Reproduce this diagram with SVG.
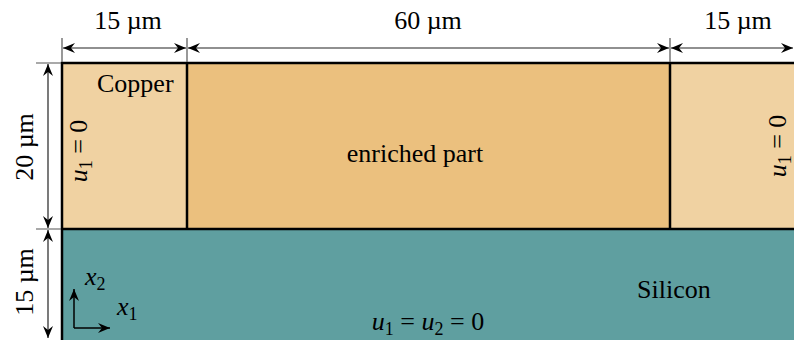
<svg xmlns="http://www.w3.org/2000/svg" width="794" height="340" viewBox="0 0 794 340" font-family="'Liberation Serif', 'Times New Roman', Times, 'DejaVu Serif', serif">
<style>
text{font-family:"Liberation Serif","Times New Roman",Times,"DejaVu Serif",serif;font-size:26px;fill:#000}
.it{font-style:italic}
.sub{font-size:18px}
.dim{stroke:#222;stroke-width:1.2;fill:none}
.ext{stroke:#555;stroke-width:1.2;fill:none}
.edge{stroke:#000;stroke-width:2.5;fill:none}
.ax{stroke:#000;stroke-width:1.5;fill:none}
</style>
<defs>
<marker id="ah" viewBox="-12 -6 14 12" refX="0" refY="0" markerWidth="14" markerHeight="12" markerUnits="userSpaceOnUse" orient="auto-start-reverse">
<path d="M0,0 L-12,-5 L-8,0 L-12,5 Z" fill="#000"/>
</marker>
</defs>
<g id="silicon">
<rect x="62" y="229" width="740" height="120" fill="#5F9FA0"/>
<text x="637" y="298">Silicon</text>
<text x="428" y="330" text-anchor="middle"><tspan class="it">u</tspan><tspan class="sub" dy="5">1</tspan><tspan dy="-5"> = </tspan><tspan class="it">u</tspan><tspan class="sub" dy="5">2</tspan><tspan dy="-5"> = 0</tspan></text>
</g>
<g id="copper-left">
<rect x="62" y="63" width="125" height="166" fill="#F0D2A2"/>
<text x="97" y="92">Copper</text>
<text transform="translate(87,151) rotate(-90)" text-anchor="middle"><tspan class="it">u</tspan><tspan class="sub" dy="5">1</tspan><tspan dy="-5"> = 0</tspan></text>
</g>
<g id="enriched">
<rect x="187" y="63" width="483" height="166" fill="#EBC07E"/>
<text x="415" y="162" text-anchor="middle">enriched part</text>
</g>
<g id="copper-right">
<rect x="670" y="63" width="130" height="166" fill="#F0D2A2"/>
<text transform="translate(786,146) rotate(-90)" text-anchor="middle"><tspan class="it">u</tspan><tspan class="sub" dy="5">1</tspan><tspan dy="-5"> = 0</tspan></text>
</g>
<g id="edges">
<path class="edge" d="M62,340 V63 H800 M187,63 V229 M670,63 V229 M62,229 H800"/>
</g>
<g id="axes">
<path class="ax" d="M74,328 V289" marker-end="url(#ah)"/>
<path class="ax" d="M74,328 H110" marker-end="url(#ah)"/>
<text x="85" y="285" class="it">x<tspan class="sub" dy="5" style="font-style:normal">2</tspan></text>
<text x="117" y="315" class="it">x<tspan class="sub" dy="5" style="font-style:normal">1</tspan></text>
</g>
<g id="connectors">
<path class="ext" d="M62,38 V62 M187,38 V62 M670,38 V62"/>
<path class="ext" d="M36,63 H61 M36,229 H61"/>
<path class="dim" d="M63,48 H186" marker-start="url(#ah)" marker-end="url(#ah)"/>
<path class="dim" d="M188,48 H669" marker-start="url(#ah)" marker-end="url(#ah)"/>
<path class="dim" d="M671,48 H793" marker-start="url(#ah)" marker-end="url(#ah)"/>
<path class="dim" d="M48,64 V228" marker-start="url(#ah)" marker-end="url(#ah)"/>
<path class="dim" d="M48,230 V338" marker-start="url(#ah)" marker-end="url(#ah)"/>
</g>
<g id="labels">
<text x="128" y="29" text-anchor="middle">15 µm</text>
<text x="428" y="29" text-anchor="middle">60 µm</text>
<text x="738" y="29" text-anchor="middle">15 µm</text>
<text transform="translate(33,147) rotate(-90)" text-anchor="middle">20 µm</text>
<text transform="translate(33,282) rotate(-90)" text-anchor="middle">15 µm</text>
</g>
</svg>
